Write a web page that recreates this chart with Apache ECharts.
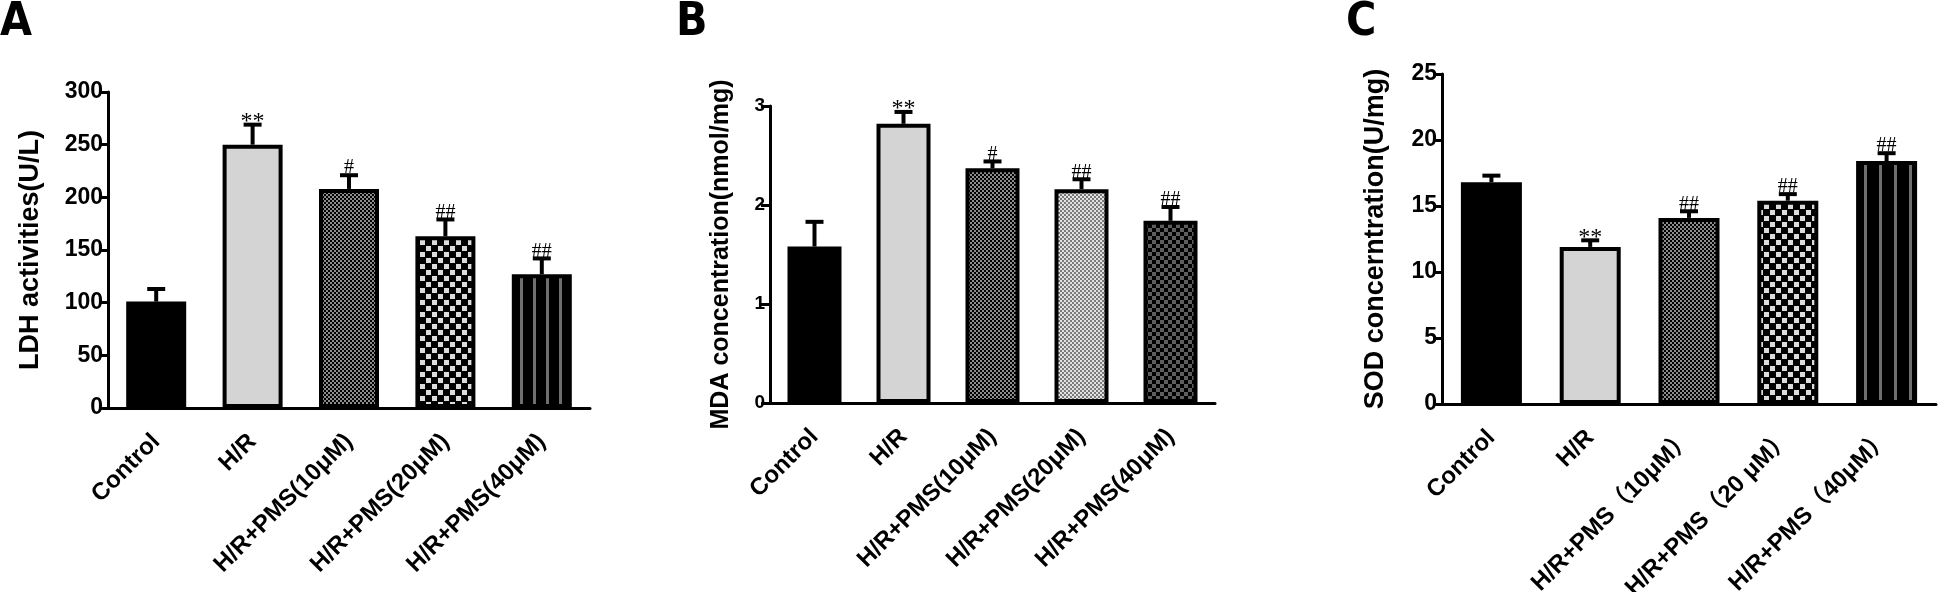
<!DOCTYPE html>
<html>
<head>
<meta charset="utf-8">
<script src="https://cdn.jsdelivr.net/npm/echarts@6/dist/echarts.min.js"></script>
<style>
html, body { margin: 0; padding: 0; background: #fff; }
#main { width: 1943px; height: 592px; }
</style>
</head>
<body>
<div id="main"></div>
<script>
// groups on the x axes
var groupsAB = ['Control', 'H/R', 'H/R+PMS(10μM)', 'H/R+PMS(20μM)', 'H/R+PMS(40μM)'];
var groupsC = ['Control', 'H/R', 'H/R+PMS（10μM）', 'H/R+PMS（20 μM）', 'H/R+PMS（40μM）'];

// A: LDH
var ldhMean = [101, 250, 208, 163, 127];
var ldhErr = [12, 19, 13, 16, 15];
var ldhMark = ['', '**', '#', '##', '##'];
// B: MDA
var mdaMean = [1.58, 2.82, 2.37, 2.16, 1.84];
var mdaErr = [0.25, 0.12, 0.07, 0.10, 0.14];
var mdaMark = ['', '**', '#', '##', '##'];
// C: SOD
var sodMean = [16.8, 11.9, 14.1, 15.4, 18.4];
var sodErr = [0.5, 0.5, 0.5, 0.5, 0.6];
var sodMark = ['', '**', '##', '##', '##'];

var FONT = "'Liberation Sans', Arial, 'Noto Sans CJK SC', sans-serif";

// fill patterns like the GraphPad ones
function tile(w, h, bg, fg, rects) {
    var c = document.createElement('canvas');
    c.width = w;
    c.height = h;
    var g = c.getContext('2d');
    g.fillStyle = bg;
    g.fillRect(0, 0, w, h);
    g.fillStyle = fg;
    rects.forEach(function (r) { g.fillRect(r[0], r[1], r[2], r[3]); });
    return { image: c, repeat: 'repeat' };
}
var fineDark = tile(4, 4, '#000', '#8c8c8c', [[0, 0, 2, 2], [2, 2, 2, 2]]);
var fineLight = tile(4, 4, '#7a7a7a', '#e2e2e2', [[0, 0, 2, 2], [2, 2, 2, 2]]);
var midDark = tile(8, 8, '#000', '#5e5e5e', [[0, 0, 4, 4], [4, 4, 4, 4]]);
var bigCheck = tile(12, 12, '#000', '#dcdcdc', [[0, 0, 5, 5], [6, 6, 5, 5]]);
var stripeA = tile(13, 4, '#000', '#6e6e6e', [[0, 0, 3, 4]]);
var stripeC = tile(15, 4, '#000', '#6e6e6e', [[4, 0, 3, 4]]);

var fillA = ['#000', '#d4d4d4', fineDark, bigCheck, stripeA];
var fillB = ['#000', '#d4d4d4', fineDark, fineLight, midDark];
var fillC = ['#000', '#d4d4d4', fineDark, bigCheck, stripeC];

function barData(means, fills) {
    return means.map(function (v, i) {
        return { value: v, itemStyle: { color: fills[i] } };
    });
}
function errData(means, errs) {
    return means.map(function (v, i) { return [i, v, errs[i]]; });
}

// upper error bar, cap and significance mark
function errRender(marks) {
    return function (params, api) {
        var i = api.value(0);
        var m = api.value(1);
        var e = api.value(2);
        var base = api.coord([i, m]);
        var top = api.coord([i, m + e]);
        var cap = 18;
        var kids = [
            { type: 'line', shape: { x1: base[0], y1: base[1], x2: top[0], y2: top[1] },
              style: { stroke: '#000', lineWidth: 4 } },
            { type: 'line', shape: { x1: top[0] - cap / 2, y1: top[1], x2: top[0] + cap / 2, y2: top[1] },
              style: { stroke: '#000', lineWidth: 4 } }
        ];
        var mk = marks[i];
        if (mk) {
            var star = mk.indexOf('*') >= 0;
            kids.push({
                type: 'text',
                x: top[0],
                y: top[1] + (star ? 9 : 3),
                style: {
                    text: mk,
                    fill: '#000',
                    align: 'center',
                    verticalAlign: 'bottom',
                    font: (star ? '24px' : '20px') + " 'Liberation Serif', 'Times New Roman', serif"
                }
            });
        }
        return { type: 'group', children: kids };
    };
}

function xAxis(idx, cats) {
    return {
        type: 'category',
        gridIndex: idx,
        data: cats,
        axisLine: { lineStyle: { color: '#000', width: 3 } },
        axisTick: { alignWithLabel: true, length: 10, lineStyle: { color: '#000', width: 3 } },
        axisLabel: {
            interval: 0, rotate: 45, margin: 30, color: '#000',
            fontSize: 24, fontWeight: 'bold', fontFamily: FONT
        }
    };
}
function yAxis(idx, name, max, step, tickSize, nameSize, gap) {
    return {
        type: 'value',
        gridIndex: idx,
        min: 0,
        max: max,
        interval: step,
        name: name,
        nameLocation: 'middle',
        nameGap: gap,
        nameTextStyle: { color: '#000', fontSize: nameSize, fontWeight: 'bold', fontFamily: FONT },
        splitLine: { show: false },
        axisLine: { show: true, lineStyle: { color: '#000', width: 3 } },
        axisTick: { show: true, length: 9, lineStyle: { color: '#000', width: 3 } },
        axisLabel: { color: '#000', fontSize: tickSize, fontWeight: 'bold', fontFamily: FONT, margin: 5 }
    };
}

var barStyle = { borderColor: '#000', borderWidth: 4 };

var myChart = echarts.init(document.getElementById('main'));
var option = {
    backgroundColor: '#fff',
    animation: false,
    graphic: [
        { type: 'text', left: 0, top: 0, style: { text: 'A', fill: '#000', font: "bold 46px 'Liberation Sans Narrow', 'DejaVu Sans Condensed', sans-serif" } },
        { type: 'text', left: 676, top: 0, style: { text: 'B', fill: '#000', font: "bold 46px 'Liberation Sans Narrow', 'DejaVu Sans Condensed', sans-serif" } },
        { type: 'text', left: 1346, top: 0, style: { text: 'C', fill: '#000', font: "bold 46px 'Liberation Sans Narrow', 'DejaVu Sans Condensed', sans-serif" } }
    ],
    grid: [
        { left: 108, right: 1353, top: 92, bottom: 184, outerBoundsMode: 'none' },
        { left: 770, right: 728, top: 106, bottom: 189, outerBoundsMode: 'none' },
        { left: 1442, right: 7, top: 74, bottom: 188, outerBoundsMode: 'none' }
    ],
    xAxis: [xAxis(0, groupsAB), xAxis(1, groupsAB), xAxis(2, groupsC)],
    yAxis: [
        yAxis(0, 'LDH activities(U/L)', 300, 50, 23, 27, 64),
        yAxis(1, 'MDA concentration(nmol/mg)', 3, 1, 19, 25, 36),
        yAxis(2, 'SOD concerntration(U/mg)', 25, 5, 23, 27, 53)
    ],
    series: [
        { type: 'bar', xAxisIndex: 0, yAxisIndex: 0, barWidth: 60, itemStyle: barStyle, data: barData(ldhMean, fillA) },
        { type: 'custom', xAxisIndex: 0, yAxisIndex: 0, z: 5, renderItem: errRender(ldhMark), data: errData(ldhMean, ldhErr) },
        { type: 'bar', xAxisIndex: 1, yAxisIndex: 1, barWidth: 54, itemStyle: barStyle, data: barData(mdaMean, fillB) },
        { type: 'custom', xAxisIndex: 1, yAxisIndex: 1, z: 5, renderItem: errRender(mdaMark), data: errData(mdaMean, mdaErr) },
        { type: 'bar', xAxisIndex: 2, yAxisIndex: 2, barWidth: 61, itemStyle: barStyle, data: barData(sodMean, fillC) },
        { type: 'custom', xAxisIndex: 2, yAxisIndex: 2, z: 5, renderItem: errRender(sodMark), data: errData(sodMean, sodErr) }
    ]
};
myChart.setOption(option);
</script>
</body>
</html>
